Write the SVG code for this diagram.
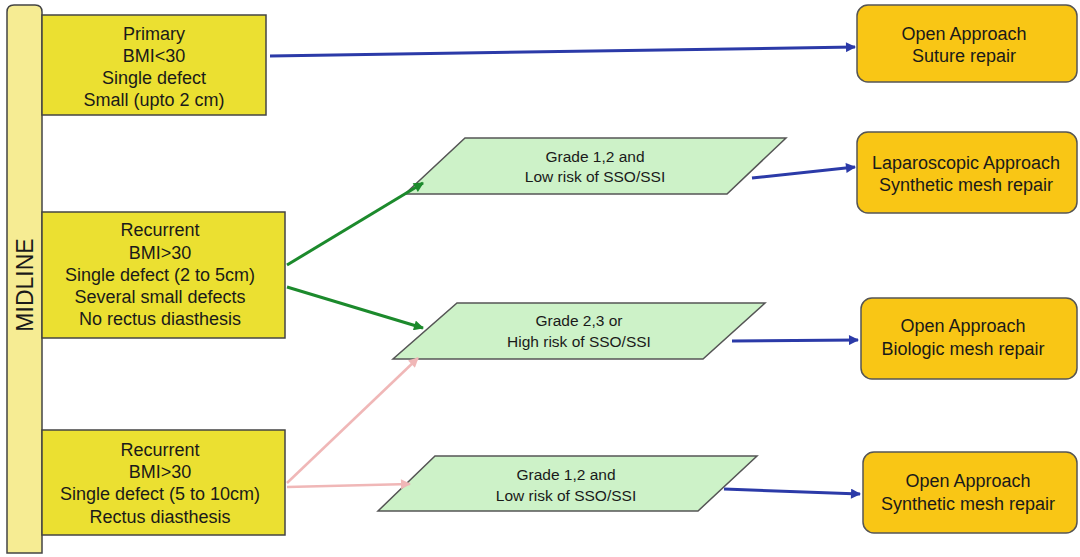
<svg xmlns="http://www.w3.org/2000/svg" width="1080" height="557" viewBox="0 0 1080 557">
<style>
text{font-family:"Liberation Sans",Arial,sans-serif;fill:#1a1a1a;text-anchor:middle}
.crit{fill:#ebe031;stroke:#444;stroke-width:1.5}
.mid{fill:#f6ec93;stroke:#444;stroke-width:1.5}
.para{fill:#cdf2c8;stroke:#555;stroke-width:1.5}
.out{fill:#f9c615;stroke:#555;stroke-width:1.5}
.t18{font-size:18px}
.t15{font-size:15.5px}
.blue{stroke:#2b3aa8;stroke-width:3;fill:none}
.green{stroke:#1c8a2c;stroke-width:3;fill:none}
.pink{stroke:#f0b7b7;stroke-width:2.5;fill:none}
</style>
<defs>
<marker id="ab" viewBox="0 0 10 10" refX="9" refY="5" markerWidth="12" markerHeight="10" markerUnits="userSpaceOnUse" orient="auto"><path d="M0,0 L10,5 L0,10 z" fill="#2b3aa8"/></marker>
<marker id="ag" viewBox="0 0 10 10" refX="9" refY="5" markerWidth="12" markerHeight="10" markerUnits="userSpaceOnUse" orient="auto"><path d="M0,0 L10,5 L0,10 z" fill="#1c8a2c"/></marker>
<marker id="ap" viewBox="0 0 10 10" refX="9" refY="5" markerWidth="12" markerHeight="10" markerUnits="userSpaceOnUse" orient="auto"><path d="M0,0 L10,5 L0,10 z" fill="#f0b7b7"/></marker>
</defs>
<g id="midline">
<path class="mid" d="M7,553 L7,12 Q7,5 14,5 L35,5 Q42,5 42,12 L42,553 Z"/>
<text transform="translate(33,285) rotate(-90)" style="font-size:23px">MIDLINE</text>
</g>
<g id="crit1">
<rect class="crit" x="42" y="15" width="224" height="100"/>
<text class="t18"><tspan x="154" y="40">Primary</tspan><tspan x="154" y="62">BMI&lt;30</tspan><tspan x="154" y="84">Single defect</tspan><tspan x="154" y="106">Small (upto 2 cm)</tspan></text>
</g>
<g id="crit2">
<rect class="crit" x="42" y="212" width="243" height="126"/>
<text class="t18"><tspan x="160" y="236">Recurrent</tspan><tspan x="160" y="259">BMI&gt;30</tspan><tspan x="160" y="281">Single defect (2 to 5cm)</tspan><tspan x="160" y="303">Several small defects</tspan><tspan x="160" y="325">No rectus diasthesis</tspan></text>
</g>
<g id="crit3">
<rect class="crit" x="42" y="430" width="243" height="105"/>
<text class="t18"><tspan x="160" y="456">Recurrent</tspan><tspan x="160" y="478">BMI&gt;30</tspan><tspan x="160" y="500">Single defect (5 to 10cm)</tspan><tspan x="160" y="523">Rectus diasthesis</tspan></text>
</g>
<g id="grade1">
<polygon class="para" points="465,138 786,138 727,194 405,194"/>
<text class="t15"><tspan x="595" y="162">Grade 1,2 and</tspan><tspan x="595" y="182">Low risk of SSO/SSI</tspan></text>
</g>
<g id="grade2">
<polygon class="para" points="457,303 765,303 703,359 393,359"/>
<text class="t15"><tspan x="579" y="326">Grade 2,3 or</tspan><tspan x="579" y="347">High risk of SSO/SSI</tspan></text>
</g>
<g id="grade3">
<polygon class="para" points="435,456 757,456 698,511 378,511"/>
<text class="t15"><tspan x="566" y="480">Grade 1,2 and</tspan><tspan x="566" y="501">Low risk of SSO/SSI</tspan></text>
</g>
<g id="out1">
<rect class="out" x="857" y="5" width="220" height="77" rx="11"/>
<text class="t18"><tspan x="964" y="40">Open Approach</tspan><tspan x="964" y="62">Suture repair</tspan></text>
</g>
<g id="out2">
<rect class="out" x="857" y="132" width="220" height="81" rx="11"/>
<text class="t18"><tspan x="966" y="169">Laparoscopic Approach</tspan><tspan x="966" y="191">Synthetic mesh repair</tspan></text>
</g>
<g id="out3">
<rect class="out" x="861" y="298" width="216" height="81" rx="11"/>
<text class="t18"><tspan x="963" y="332">Open Approach</tspan><tspan x="963" y="355">Biologic mesh repair</tspan></text>
</g>
<g id="out4">
<rect class="out" x="863" y="452" width="214" height="81" rx="11"/>
<text class="t18"><tspan x="968" y="487">Open Approach</tspan><tspan x="968" y="510">Synthetic mesh repair</tspan></text>
</g>
<g id="connectors">
<line class="blue" x1="270" y1="56" x2="855" y2="47" marker-end="url(#ab)"/>
<line class="blue" x1="752" y1="178" x2="855" y2="167" marker-end="url(#ab)"/>
<line class="blue" x1="732" y1="341" x2="858" y2="340" marker-end="url(#ab)"/>
<line class="blue" x1="724" y1="489" x2="860" y2="494" marker-end="url(#ab)"/>
<line class="green" x1="287" y1="265" x2="423" y2="183" marker-end="url(#ag)"/>
<line class="green" x1="287" y1="287" x2="423" y2="328" marker-end="url(#ag)"/>
<line class="pink" x1="287" y1="483" x2="418" y2="358" marker-end="url(#ap)"/>
<line class="pink" x1="287" y1="487" x2="410" y2="484" marker-end="url(#ap)"/>
</g>
</svg>
